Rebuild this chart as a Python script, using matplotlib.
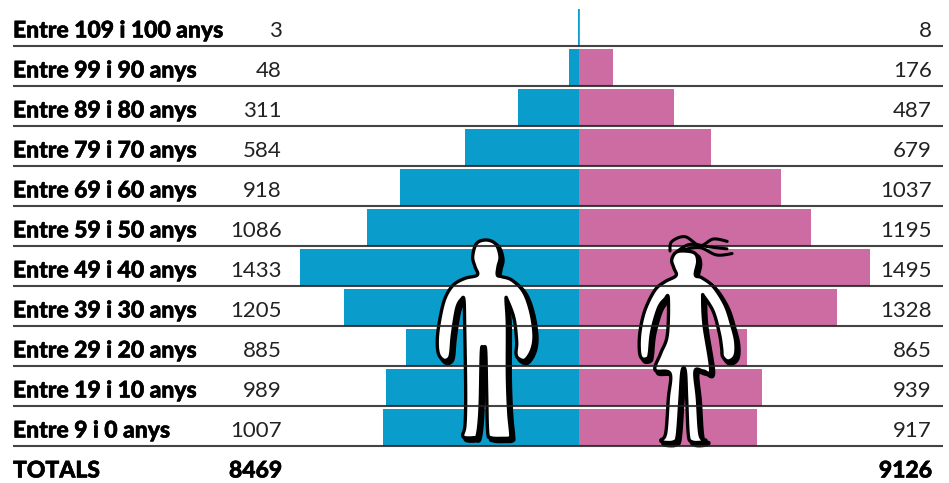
"""Piramide de poblacio per edats, homes i dones."""
import numpy as np
import matplotlib
matplotlib.use("Agg")
import matplotlib.pyplot as plt  # noqa: E402
import matplotlib.patheffects as pe  # noqa: E402
from matplotlib.patches import Polygon  # noqa: E402

W, H = 949, 483
BLUE, PINK = "#0a9dcb", "#cc6ca2"
FONT = ["Lato", "DejaVu Sans"]

groups = ["Entre 109 i 100 anys", "Entre 99 i 90 anys", "Entre 89 i 80 anys", "Entre 79 i 70 anys",
          "Entre 69 i 60 anys", "Entre 59 i 50 anys", "Entre 49 i 40 anys", "Entre 39 i 30 anys",
          "Entre 29 i 20 anys", "Entre 19 i 10 anys", "Entre 9 i 0 anys"]
men = [3, 48, 311, 584, 918, 1086, 1433, 1205, 885, 989, 1007]
women = [8, 176, 487, 679, 1037, 1195, 1495, 1328, 865, 939, 917]
total_men, total_women = 8469, 9126

# silhouette outlines, in coordinates of the 3x crop at (420, 225)
man_xy = [(200, 45), (228, 58), (240, 95), (234, 125), (232, 150), (245, 155), (275, 165), (310, 200), (332, 260),
          (342, 330), (335, 375), (315, 405), (295, 400), (288, 385), (290, 350), (282, 280), (262, 225), (258, 225),
          (262, 300), (262, 450), (266, 560), (272, 625), (270, 638), (250, 640), (212, 638), (203, 620), (200, 500),
          (197, 375), (190, 372), (184, 380), (180, 550), (172, 630), (160, 638), (135, 638), (128, 630), (135, 600),
          (137, 500), (134, 300), (132, 225), (125, 222), (110, 250), (97, 330), (92, 385), (85, 402), (70, 405),
          (55, 385), (52, 340), (60, 280), (75, 220), (100, 180), (135, 160), (172, 150), (165, 125), (158, 95),
          (170, 55)]
woman_xy = [(795, 78), (825, 85), (833, 110), (826, 150), (845, 158), (880, 185), (915, 240), (935, 300), (947, 350),
            (945, 392), (925, 408), (908, 395), (905, 370), (898, 325), (880, 260), (852, 215), (848, 218), (852, 300),
            (872, 435), (850, 438), (825, 438), (832, 520), (840, 630), (858, 646), (840, 652), (815, 650), (805, 630),
            (800, 520), (796, 438), (786, 438), (780, 520), (772, 630), (762, 650), (735, 652), (722, 646), (737, 625),
            (745, 520), (750, 445), (705, 435), (722, 385), (742, 330), (745, 220), (735, 222), (715, 250), (695, 320),
            (688, 385), (682, 400), (665, 400), (658, 375), (660, 320), (675, 255), (705, 195), (735, 170), (768, 152),
            (762, 130), (755, 105), (768, 82)]
hair = [[(750, 78), (755, 50), (795, 35), (840, 62), (880, 42), (925, 50)],
        [(770, 80), (810, 58), (870, 66), (925, 72)],
        [(785, 75), (840, 68), (890, 90), (940, 85)]]


def smooth(pts, closed=True, n=8):
    # catmull-rom through the traced points
    p = np.array(pts, dtype=float)
    if closed:
        p = np.vstack([p[-1], p, p[0], p[1]])
    else:
        p = np.vstack([p[0], p, p[-1]])
    out = []
    for i in range(1, len(p) - 2):
        for t in np.linspace(0, 1, n, endpoint=False):
            out.append(0.5 * (2 * p[i] + (p[i + 1] - p[i - 1]) * t
                              + (2 * p[i - 1] - 5 * p[i] + 4 * p[i + 1] - p[i + 2]) * t ** 2
                              + (3 * p[i] - p[i - 1] - 3 * p[i + 1] + p[i + 2]) * t ** 3))
    return np.array(out) / 3 + [420, 225]


fig = plt.figure(figsize=(W / 100, H / 100), dpi=100)

# bars: x in people, y in rows
ax = fig.add_axes([0, 0, 1, 1])
px_per_unit = 0.1948
ax.set_xlim(-578.7 / px_per_unit, (W - 578.7) / px_per_unit)
ax.set_ylim((H - 27) / 40, -27 / 40)
ax.axis("off")
rows = np.arange(len(groups))
ax.barh(rows, -np.array(men), height=0.925, color=BLUE, linewidth=0)
ax.barh(rows, women, height=0.925, color=PINK, linewidth=0)

# everything else in pixels
ov = fig.add_axes([0, 0, 1, 1], facecolor="none")
ov.set_xlim(0, W)
ov.set_ylim(H, 0)
ov.axis("off")

heavy = [pe.withStroke(linewidth=0.4, foreground="black")]
for i, g in enumerate(groups):
    yc = 31 + 40 * i
    ov.plot([13, 943], [yc + 15] * 2, color="#222222", alpha=0.85, lw=1.5, solid_capstyle="butt")
    ov.text(13, yc, g, fontsize=16.5, fontweight="black", family=FONT, color="black", va="center", ha="left",
            path_effects=heavy)
    ov.text(282, yc, str(men[i]), fontsize=16, family=FONT, color="#222222", va="center", ha="right")
    ov.text(932, yc, str(women[i]), fontsize=16, family=FONT, color="#222222", va="center", ha="right")

ov.text(13, 471, "TOTALS", fontsize=16.5, fontweight="black", family=FONT, color="black", va="center", ha="left",
        path_effects=heavy)
ov.text(282, 471, str(total_men), fontsize=16.5, fontweight="black", family=FONT, color="black", va="center", ha="right",
        path_effects=heavy)
ov.text(932, 471, str(total_women), fontsize=16.5, fontweight="black", family=FONT, color="black", va="center", ha="right",
        path_effects=heavy)

for outline in (man_xy, woman_xy):
    xy = smooth(outline)
    ov.add_patch(Polygon(xy + [2.6, 2.8], closed=True, fc="black", ec="black", lw=3, joinstyle="round"))
    ov.add_patch(Polygon(xy, closed=True, fc="white", ec="black", lw=2.4, joinstyle="round"))
for strand in hair:
    xy = smooth(strand, closed=False)
    ov.plot(xy[:, 0], xy[:, 1], color="black", lw=2.2, solid_capstyle="round")

fig.savefig("out.png", dpi=100)
